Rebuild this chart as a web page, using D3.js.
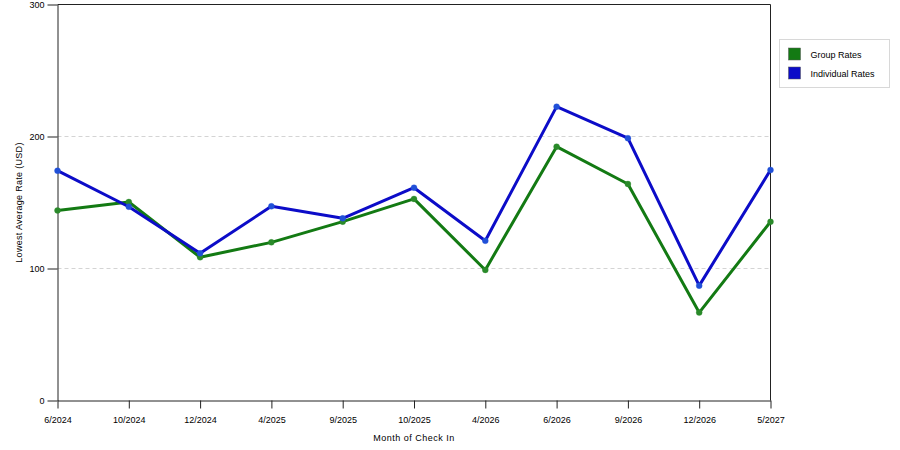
<!DOCTYPE html>
<meta charset="utf-8">
<title>Lowest Average Rate</title>
<head>
  <script src="https://d3js.org/d3.v7.min.js"></script>
  <style>
    body { margin: 0; background: #fff; }
    text { font-family: "Liberation Sans", Arial, sans-serif; font-size: 9px; fill: #000; }
  </style>
</head>
<body>
  <div id="chart"></div>
</body>

<script>
    // chart values
    var months = ["6/2024", "10/2024", "12/2024", "4/2025", "9/2025", "10/2025",
                  "4/2026", "6/2026", "9/2026", "12/2026", "5/2027"];
    var groupRates = [144, 150.4, 108.5, 119.8, 135.5, 152.7, 98.9, 192.3, 164, 66.6, 135.4];
    var individualRates = [174.1, 146.8, 111.5, 147.1, 138, 161.2, 121, 222.6, 198.7, 87, 174.6];
    var yTicks = [0, 100, 200, 300];
    var seriesNames = ["Group Rates", "Individual Rates"];
    var seriesColors = ["#137a13", "#0c0cc8"];
    var markerColors = ["#2a8a2a", "#2050d8"];

    // set the dimensions and margins of the graph
    var margin = {top: 4.5, right: 129.5, bottom: 49.5, left: 57.5},
        width = 900 - margin.left - margin.right,
        height = 450 - margin.top - margin.bottom;

    var svg = d3.select("#chart")
      .append("svg")
        .attr("width", 900)
        .attr("height", 450)
      .append("g")
        .attr("transform", "translate(" + margin.left + "," + margin.top + ")");

    var x = d3.scalePoint()
        .domain(months)
        .range([0, width]);

    var y = d3.scaleLinear()
        .domain([0, 300])
        .range([height, 0]);

    // gridlines
    svg.selectAll(".grid")
      .data(yTicks.filter(function(d) { return d > 0 && d < 300; }))
      .enter()
      .append("line")
        .attr("x1", 0)
        .attr("x2", width)
        .attr("y1", function(d) { return y(d); })
        .attr("y2", function(d) { return y(d); })
        .style("stroke", "#d4d4d4")
        .style("stroke-dasharray", "4,3");

    // frame (top and right)
    svg.append("path")
        .attr("d", "M0,0H" + width + "V" + height)
        .style("fill", "none")
        .style("stroke", "#222");

    // x axis
    var xAxis = svg.append("g")
        .attr("transform", "translate(0," + height + ")")
        .call(d3.axisBottom(x).tickSize(8).tickPadding(8).tickSizeOuter(0));
    xAxis.select(".domain").style("stroke", "#222");
    xAxis.selectAll(".tick line").style("stroke", "#222");
    xAxis.selectAll("text").style("font-size", "9px").style("font-family", "'Liberation Sans', Arial, sans-serif");

    // y axis
    var yAxis = svg.append("g")
        .call(d3.axisLeft(y).tickValues(yTicks).tickSize(10).tickPadding(3).tickSizeOuter(0));
    yAxis.select(".domain").style("stroke", "#222");
    yAxis.selectAll(".tick line").style("stroke", "#222");
    yAxis.selectAll("text").style("font-size", "9px").style("font-family", "'Liberation Sans', Arial, sans-serif");

    // axis titles
    svg.append("text")
        .attr("x", width / 2)
        .attr("y", height + 40.5)
        .attr("text-anchor", "middle")
        .style("letter-spacing", "0.5px")
        .text("Month of Check In");

    svg.append("text")
        .attr("transform", "translate(" + (-39) + "," + (height / 2) + ") rotate(-90)")
        .attr("text-anchor", "middle")
        .attr("dy", "0.35em")
        .style("letter-spacing", "0.3px")
        .text("Lowest Average Rate (USD)");

    // lines and markers
    var series = [groupRates, individualRates];
    var line = d3.line()
        .x(function(d, i) { return x(months[i]); })
        .y(function(d) { return y(d); });

    series.forEach(function(values, s) {
      svg.append("path")
          .datum(values)
          .attr("d", line)
          .style("fill", "none")
          .style("stroke", seriesColors[s])
          .style("stroke-width", 3)
          .style("stroke-linejoin", "round");

      svg.selectAll(".dot" + s)
        .data(values)
        .enter()
        .append("circle")
          .attr("cx", function(d, i) { return x(months[i]); })
          .attr("cy", function(d) { return y(d); })
          .attr("r", 3)
          .style("fill", markerColors[s])
          .style("stroke", markerColors[s])
          .style("stroke-opacity", 0.3)
          .style("stroke-width", 1);
    });

    // legend
    var legend = d3.select("svg").append("g")
        .attr("transform", "translate(779.5,39.5)");
    legend.append("rect")
        .attr("width", 110)
        .attr("height", 48)
        .style("fill", "#fff")
        .style("stroke", "#d8d8d8");
    seriesNames.forEach(function(name, s) {
      legend.append("rect")
          .attr("x", 9)
          .attr("y", 8.5 + s * 19)
          .attr("width", 12)
          .attr("height", 12)
          .style("fill", seriesColors[s])
          .style("stroke", "#555")
          .style("stroke-width", 0.5);
      legend.append("text")
          .attr("x", 31)
          .attr("y", 15.5 + s * 19)
          .attr("dy", "0.35em")
          .text(name);
    });
</script>
